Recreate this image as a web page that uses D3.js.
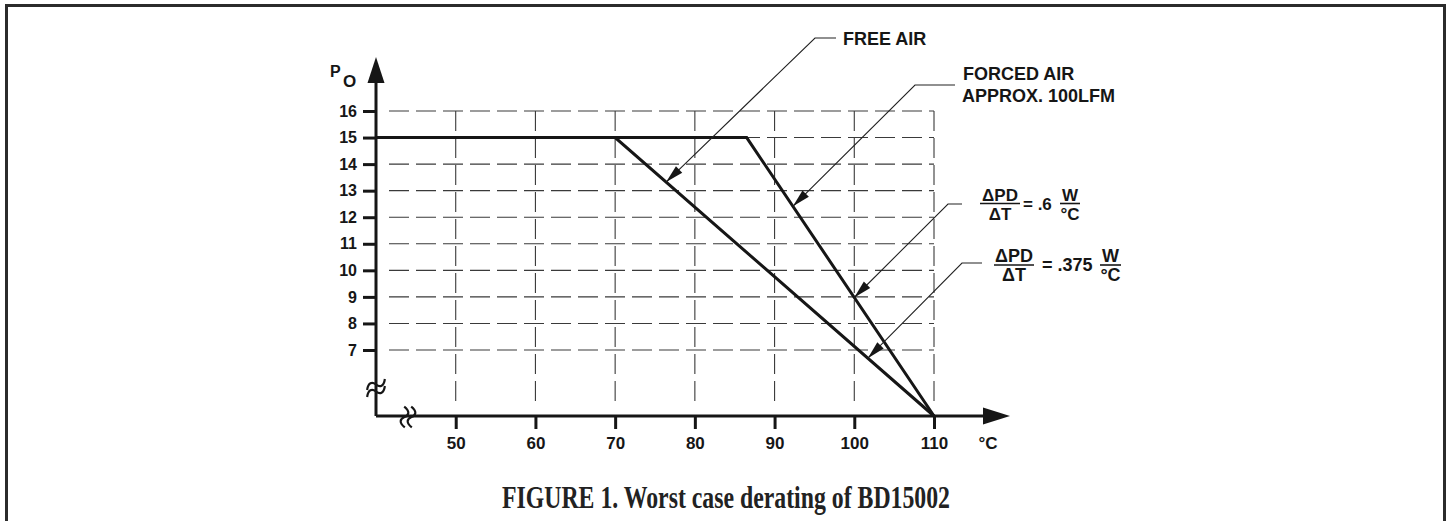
<!DOCTYPE html>
<html>
<head>
<meta charset="utf-8">
<script src="https://cdn.jsdelivr.net/npm/d3@7"></script>
<style>
body { margin: 0; background: #fff; }
text { font-family: "Liberation Sans", Arial, sans-serif; font-weight: bold; fill: #161616; }
</style>
</head>
<body>
<div id="chart"></div>
<script>
// Values.
var tempTicks = [50, 60, 70, 80, 90, 100, 110];
var powerTicks = [7, 8, 9, 10, 11, 12, 13, 14, 15, 16];
var freeAirTemp = [40, 70, 110];
var freeAirPower = [15, 15, 0];
var forcedAirTemp = [40, 86.5, 110];
var forcedAirPower = [15, 15, 0];

// Set up the svg.
var svgWidth = 1449;
var svgHeight = 521;
var svg = d3.select("#chart").append("svg").attr("width", svgWidth).attr("height", svgHeight);

// Frame round the figure (no bottom edge).
svg.append("path")
    .attr("d", "M6.5,521 V5.5 H1444.5 V521")
    .attr("fill", "none").attr("stroke", "#2b2b2b").attr("stroke-width", 3);

// Scales. The y axis is broken below 7, so the scale squeezes 0..7.
var xScale = d3.scaleLinear().domain([40, 110]).range([376, 934]);
var yScale = d3.scaleLinear().domain([0, 7, 16]).range([416, 350, 111]);
var x0 = xScale(40), y0 = yScale(0);

// Dashed grid.
var grid = svg.append("g").attr("stroke", "#3a3a3a").attr("stroke-width", 1.1).attr("stroke-dasharray", "20,7");
grid.selectAll("line.h").data(powerTicks).enter().append("line")
    .attr("x1", x0 + 13).attr("x2", xScale(110))
    .attr("y1", d => yScale(d)).attr("y2", d => yScale(d));
grid.selectAll("line.v").data(tempTicks).enter().append("line")
    .attr("x1", d => xScale(d)).attr("x2", d => xScale(d))
    .attr("y1", yScale(16)).attr("y2", y0 - 13);

// Axes with ticks.
var leftAxis = d3.axisLeft(yScale).tickValues(powerTicks).tickSize(13).tickPadding(6);
var bottomAxis = d3.axisBottom(xScale).tickValues(tempTicks).tickSize(13).tickPadding(8);
var yAxis = svg.append("g").attr("transform", `translate(${x0},0)`).call(leftAxis);
var xAxis = svg.append("g").attr("transform", `translate(0,${y0})`).call(bottomAxis);
[yAxis, xAxis].forEach(a => {
    a.select(".domain").remove();
    a.selectAll(".tick line").attr("stroke", "#161616").attr("stroke-width", 3);
    a.selectAll(".tick text").attr("font-family", null).attr("fill", null);
});
yAxis.selectAll(".tick text").attr("font-size", "16px");
xAxis.selectAll(".tick text").attr("font-size", "17px");

// Axis lines with arrows.
svg.append("path").attr("d", `M${x0},${y0} V83 M${x0},${y0} H983`)
    .attr("stroke", "#161616").attr("stroke-width", 3).attr("fill", "none");
svg.append("path").attr("d", `M${x0 - 8.5},83 L${x0 + 8.5},83 L${x0},57 Z`).attr("fill", "#161616");
svg.append("path").attr("d", `M983,${y0 - 8.5} L983,${y0 + 8.5} L1010,${y0} Z`).attr("fill", "#161616");

// Axis break marks.
var tilde = "M-10,3 C-7,-4 -3,-4 0,0 S7,4 10,-3";
[-3.5, 3.5].forEach(o => {
    svg.append("path").attr("d", tilde)
        .attr("transform", `translate(${x0},${388 + o}) rotate(-15)`)
        .attr("fill", "none").attr("stroke", "#161616").attr("stroke-width", 2.2);
    svg.append("path").attr("d", tilde)
        .attr("transform", `translate(${408 + o},${y0 + 1}) rotate(-75)`)
        .attr("fill", "none").attr("stroke", "#161616").attr("stroke-width", 2.2);
});

// Axis titles.
svg.append("text").attr("x", 330).attr("y", 77).attr("font-size", "16px").text("P");
svg.append("text").attr("x", 343).attr("y", 87).attr("font-size", "17px").text("O");
svg.append("text").attr("x", 988).attr("y", 449).attr("font-size", "17px").attr("text-anchor", "middle").text("°C");

// Derating curves.
var line = d3.line().x(d => xScale(d[0])).y(d => yScale(d[1]));
[[freeAirTemp, freeAirPower], [forcedAirTemp, forcedAirPower]].forEach(s => {
    svg.append("path").datum(d3.zip(s[0], s[1])).attr("d", line)
        .attr("fill", "none").attr("stroke", "#161616").attr("stroke-width", 3).attr("stroke-linejoin", "miter");
});

// Point on a drawn curve at a given temperature (straight in pixel space).
function pointOn(temps, powers, t) {
    for (var i = 0; i < temps.length - 1; i++) {
        if (t >= temps[i] && t <= temps[i + 1]) {
            var f = (t - temps[i]) / (temps[i + 1] - temps[i]);
            var ax = xScale(temps[i]), ay = yScale(powers[i]);
            var bx = xScale(temps[i + 1]), by = yScale(powers[i + 1]);
            return [ax + (bx - ax) * f, ay + (by - ay) * f];
        }
    }
}

function arrowHead(tip, from, len, half) {
    var dx = from[0] - tip[0], dy = from[1] - tip[1], d = Math.hypot(dx, dy);
    var ux = dx / d, uy = dy / d;
    var bx = tip[0] + ux * len, by = tip[1] + uy * len;
    return [tip, [bx - uy * half, by + ux * half], [bx + uy * half, by - ux * half]];
}

// Leader lines.
var leaders = [
    {temps: freeAirTemp, powers: freeAirPower, t: 76.4, elbow: [815, 38], end: [836, 38]},
    {temps: forcedAirTemp, powers: forcedAirPower, t: 92.3, elbow: [915, 85], end: [955, 85]},
    {temps: forcedAirTemp, powers: forcedAirPower, t: 100, elbow: [948, 204], end: [962, 204]},
    {temps: freeAirTemp, powers: freeAirPower, t: 101.7, elbow: [962, 263], end: [982, 263]}
];
leaders.forEach(l => {
    var tip = pointOn(l.temps, l.powers, l.t);
    svg.append("path").attr("d", d3.line()([tip, l.elbow, l.end]))
        .attr("fill", "none").attr("stroke", "#222").attr("stroke-width", 1.1);
    svg.append("path").attr("d", d3.line()(arrowHead(tip, l.elbow, 18, 4.5)) + "Z").attr("fill", "#161616");
});

// Labels.
svg.append("text").attr("x", 843).attr("y", 45).attr("font-size", "18px").text("FREE AIR");
svg.append("text").attr("x", 963).attr("y", 80).attr("font-size", "18px").text("FORCED AIR");
svg.append("text").attr("x", 962).attr("y", 102).attr("font-size", "18px").text("APPROX. 100LFM");

function fraction(cx, barY, w, top, bottom, size) {
    svg.append("text").attr("x", cx).attr("y", barY - 3).attr("font-size", size).attr("text-anchor", "middle").text(top);
    svg.append("text").attr("x", cx).attr("y", barY + 16).attr("font-size", size).attr("text-anchor", "middle").text(bottom);
    svg.append("line").attr("x1", cx - w / 2).attr("x2", cx + w / 2).attr("y1", barY).attr("y2", barY)
        .attr("stroke", "#161616").attr("stroke-width", 1.6);
}
fraction(1000, 203.5, 40, "ΔPD", "ΔT", "17px");
svg.append("text").attr("x", 1023).attr("y", 210).attr("font-size", "17px").text("= .6");
fraction(1070, 203.5, 20, "W", "°C", "17px");

fraction(1014, 265, 40, "ΔPD", "ΔT", "18px");
svg.append("text").attr("x", 1042).attr("y", 271).attr("font-size", "18px").text("= .375");
fraction(1110.5, 265, 21, "W", "°C", "18px");

// Caption.
svg.append("text")
    .attr("transform", "translate(502,508) scale(1,1.35)")
    .style("font-family", "'Liberation Serif', 'Times New Roman', serif")
    .attr("font-size", "24px")
    .attr("textLength", 448).attr("lengthAdjust", "spacingAndGlyphs")
    .style("fill", "#222")
    .text("FIGURE 1. Worst case derating of BD15002");
</script>
</body>
</html>
